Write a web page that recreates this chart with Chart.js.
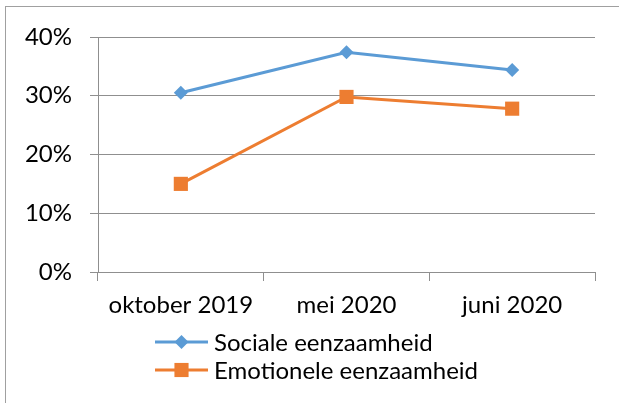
<!DOCTYPE html>
<html>
<head>
<meta charset="utf-8">
<script src="https://cdn.jsdelivr.net/npm/chart.js@4"></script>
<style>
  html, body { margin: 0; padding: 0; background: #fff; overflow: hidden; }
  #wrap { position: relative; width: 619px; height: 403px; }
  #frame { position: absolute; left: 5px; top: 6px; width: 700px; height: 500px;
           border-left: 1px solid #a0a0a0; border-top: 1px solid #a0a0a0; pointer-events: none; }
  canvas { position: absolute; left: 0; top: 0; }
</style>
</head>
<body>
<div id="wrap">
  <canvas id="c" width="619" height="403"></canvas>
  <div id="frame"></div>
</div>
<script>
const categories = ["oktober 2019", "mei 2020", "juni 2020"];
const socialeValues = [30.5, 37.4, 34.4];
const emotioneleValues = [15.0, 29.8, 27.8];
const seriesNames = ["Sociale eenzaamheid", "Emotionele eenzaamheid"];
const yTicks = [0, 10, 20, 30, 40];

const FONT = "Lato";
const blue = "#5B9BD5";
const orange = "#ED7D31";
const gridColor = "#8f8f8f";

const legendPlugin = {
  id: "customLegend",
  afterDraw(chart) {
    const ctx = chart.ctx;
    const x0 = 155, x1 = 208, tx = 214;
    const rows = [342, 370];
    chart.data.datasets.forEach((ds, i) => {
      const y = rows[i];
      ctx.save();
      ctx.strokeStyle = ds.borderColor;
      ctx.lineWidth = ds.borderWidth;
      ctx.beginPath();
      ctx.moveTo(x0, y);
      ctx.lineTo(x1, y);
      ctx.stroke();
      ctx.fillStyle = ds.pointBackgroundColor;
      ctx.strokeStyle = ds.pointBorderColor;
      Chart.helpers.drawPoint(ctx, {
        pointStyle: ds.pointStyle,
        radius: ds.pointRadius,
        rotation: 0,
        borderWidth: 0
      }, (x0 + x1) / 2, y);
      ctx.fillStyle = "#000";
      ctx.font = "24px " + FONT;
      ctx.textBaseline = "middle";
      ctx.textAlign = "left";
      ctx.fillText(ds.label, tx, y + 1);
      ctx.restore();
    });
  }
};

new Chart(document.getElementById("c"), {
  type: "line",
  data: {
    labels: categories,
    datasets: [
      {
        label: seriesNames[0],
        data: socialeValues,
        borderColor: blue,
        backgroundColor: blue,
        pointBackgroundColor: blue,
        pointBorderColor: blue,
        borderWidth: 3,
        pointStyle: "rectRot",
        pointRadius: 7,
        pointBorderWidth: 0,
        tension: 0
      },
      {
        label: seriesNames[1],
        data: emotioneleValues,
        borderColor: orange,
        backgroundColor: orange,
        pointBackgroundColor: orange,
        pointBorderColor: orange,
        borderWidth: 3,
        pointStyle: "rect",
        pointRadius: 10,
        pointBorderWidth: 0,
        tension: 0
      }
    ]
  },
  options: {
    responsive: false,
    animation: false,
    devicePixelRatio: 1,
    layout: { padding: { left: 0, right: 24, top: 37, bottom: 0 } },
    plugins: { legend: { display: false }, tooltip: { enabled: false } },
    scales: {
      x: {
        offset: true,
        grid: { offset: true, drawOnChartArea: false, color: gridColor, tickLength: 9 },
        border: { color: gridColor },
        ticks: { color: "#000", font: { family: FONT, size: 24 }, padding: 10, maxRotation: 0 },
        afterFit(scale) { scale.height = 131; }
      },
      y: {
        min: 0,
        max: 40,
        afterBuildTicks(scale) { scale.ticks = yTicks.map(v => ({ value: v })); },
        grid: { color: gridColor, tickLength: 8 },
        border: { color: gridColor },
        ticks: { color: "#000", font: { family: FONT, size: 24 }, padding: 18,
                 callback: v => v + "%" },
        afterFit(scale) { scale.width = 98; }
      }
    }
  },
  plugins: [legendPlugin]
});
</script>
</body>
</html>
